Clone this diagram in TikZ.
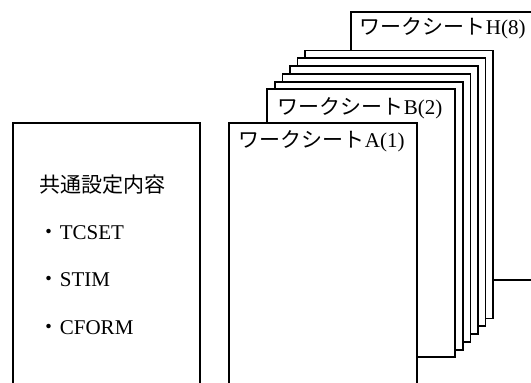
\documentclass[tikz,border=0pt]{standalone}
\usepackage{fontspec}
\setmainfont{Liberation Serif}
\newfontfamily\jpfont{Noto Sans CJK JP}
\usetikzlibrary{positioning}

\begin{document}
\begin{tikzpicture}[x=1bp,y=-1bp,line width=1.8bp,
  sheet/.style={draw,fill=white,anchor=north west,minimum width=188bp,minimum height=268bp,inner sep=0pt},
  sheettitle/.style={anchor=west,inner sep=0pt,font=\fontsize{21bp}{25bp}\selectfont},
  item/.style={anchor=west,inner sep=0pt,font=\fontsize{21bp}{25bp}\selectfont}]
\useasboundingbox (0,0) rectangle (531,382);
\clip (0,0) rectangle (531,382);
% common settings panel
\node[sheet,minimum width=187bp] (common) at (12,122) {};
\node[item] (head) at (39,185) {\jpfont 共通設定内容};
\node[item] (tcset) at (38,233) {{\jpfont ・}TCSET};
\node[item] (stim) at (38,280) {{\jpfont ・}STIM};
\node[item] (cform) at (38,328) {{\jpfont ・}CFORM};
% stack of worksheets, back to front
\node[sheet] (h) at (350,11) {};
\node[sheettitle] (htitle) at (359,28) {{\jpfont ワークシート}H(8)};
\foreach \i in {0,...,4}
  \node[sheet] (s\i) at (304-7.5*\i,49.5+7.8*\i) {};
\node[sheet] (b) at (266,88) {};
\node[sheettitle] (btitle) at (277,108) {{\jpfont ワークシート}B(2)};
\node[sheet] (a) at (228,122) {};
\node[sheettitle] (atitle) at (238,141) {{\jpfont ワークシート}A(1)};
\end{tikzpicture}
\end{document}
